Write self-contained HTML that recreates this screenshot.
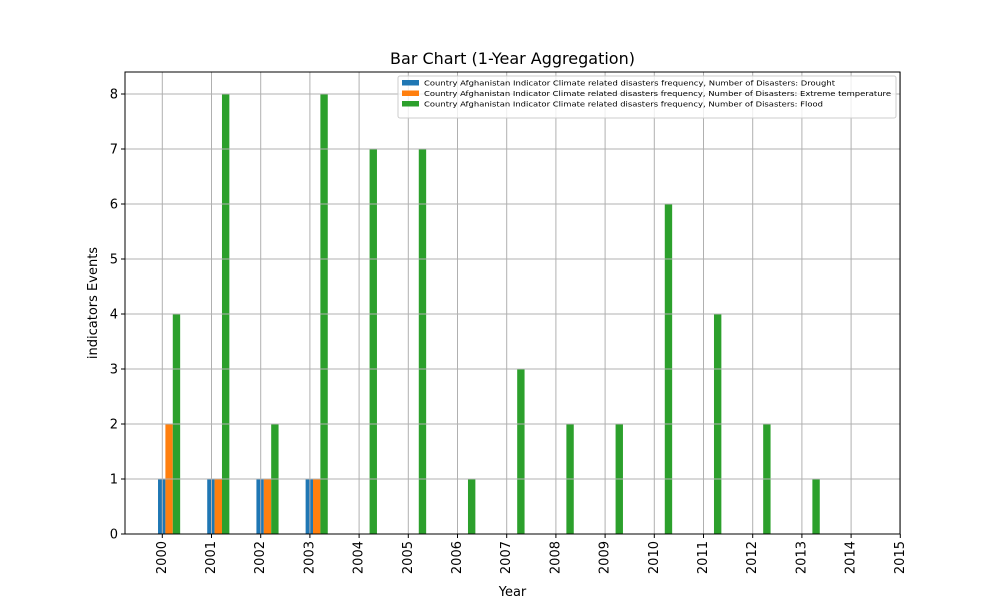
<!DOCTYPE html>
<html><head><meta charset="utf-8"><style>body{margin:0;background:#fff}svg{font-family:"DejaVu Sans","Liberation Sans",sans-serif}</style></head>
<body>
<svg id="c" width="1000" height="600"></svg>
<script>
const years=[2000,2001,2002,2003,2004,2005,2006,2007,2008,2009,2010,2011,2012,2013];
const drought=[1,1,1,1,0,0,0,0,0,0,0,0,0,0];
const extremeTemp=[2,1,1,1,0,0,0,0,0,0,0,0,0,0];
const flood=[4,8,2,8,7,7,1,3,2,2,6,4,2,1];
const xTicks=[2000,2001,2002,2003,2004,2005,2006,2007,2008,2009,2010,2011,2012,2013,2014,2015];
const yTicks=[0,1,2,3,4,5,6,7,8];
const seriesNames=["Country Afghanistan Indicator Climate related disasters frequency, Number of Disasters: Drought","Country Afghanistan Indicator Climate related disasters frequency, Number of Disasters: Extreme temperature","Country Afghanistan Indicator Climate related disasters frequency, Number of Disasters: Flood"];
const colors=["#1f77b4","#ff7f0e","#2ca02c"];
const NS="http://www.w3.org/2000/svg",svg=document.getElementById('c');
const L=125,R=900,T=72,B=534;
const x=v=>162.3+(v-2000)*49.2;
const y=v=>B-v*55;
function mk(t,a,txt){const e=document.createElementNS(NS,t);for(const k in a)e.setAttribute(k,a[k]);if(txt!==undefined)e.textContent=txt;svg.appendChild(e);return e;}
const series=[drought,extremeTemp,flood];const offs=[-0.087,0.063,0.213];
series.forEach((s,si)=>s.forEach((v,i)=>{if(v<=0)return;const r=mk('rect',{x:x(years[i]+offs[si]),y:y(v),width:0.15*49.2,height:y(0)-y(v),fill:colors[si]});

}));
xTicks.forEach(t=>{const g=mk('line',{x1:x(t),x2:x(t),y1:T,y2:B,stroke:'#b0b0b0','stroke-width':1});
mk('line',{x1:x(t),x2:x(t),y1:B,y2:B+4,stroke:'#000'});
const tx=mk('text',{x:0,y:0,'font-size':13,'text-anchor':'end','dominant-baseline':'central',transform:`translate(${x(t)},${B+7}) rotate(-90)`},t);});
yTicks.forEach(t=>{const g=mk('line',{x1:L,x2:R,y1:y(t),y2:y(t),stroke:'#b0b0b0','stroke-width':1});
mk('line',{x1:L-4,x2:L,y1:y(t),y2:y(t),stroke:'#000'});
const tx=mk('text',{x:L-7,y:y(t)+4.5,'font-size':13,'text-anchor':'end'},t);});
const fr=mk('rect',{x:L,y:T,width:R-L,height:B-T,fill:'none',stroke:'#000','stroke-width':1});
const ti=mk('text',{x:512.5,y:64,'font-size':16,'text-anchor':'middle'},'Bar Chart (1-Year Aggregation)');
const xl=mk('text',{x:512.5,y:596,'font-size':13,'text-anchor':'middle'},'Year');
const yl=mk('text',{x:0,y:0,'font-size':13,'text-anchor':'middle',transform:'translate(97,303) rotate(-90)'},'indicators Events');
const lg=mk('rect',{x:398,y:76,width:498,height:42,fill:'#fff','fill-opacity':0.8,stroke:'#ccc',rx:2});
const lens=[411,467,399];
seriesNames.forEach((n,i)=>{mk('rect',{x:402,y:80+i*10.5,width:17,height:5.5,fill:colors[i]});
const t=mk('text',{x:424,y:85.5+i*10.5,'font-size':7.3,textLength:lens[i],lengthAdjust:'spacingAndGlyphs'},n);});
</script>
</body></html>
